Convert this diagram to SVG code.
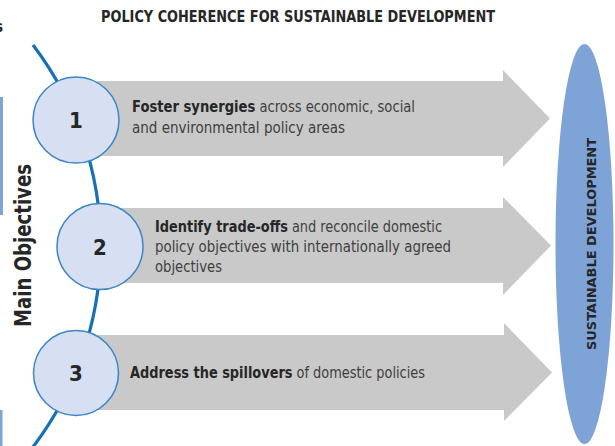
<svg xmlns="http://www.w3.org/2000/svg" width="615" height="446" viewBox="0 0 615 446">
  <style>
    .cond { font-family: "Liberation Sans Narrow", "DejaVu Sans Condensed", "Liberation Sans", sans-serif; font-stretch: condensed; }
    .title { font-size: 15px; font-weight: bold; fill: #262626; }
    .side { font-size: 23px; font-weight: bold; fill: #262626; }
    .num { font-size: 22px; font-weight: bold; fill: #262626; text-anchor: middle; }
    .body { font-size: 15.5px; fill: #404040; }
    .b { font-weight: bold; fill: #262626; }
    .arrow { fill: #c9c9c9; }
    .circ { fill: #d7e0f3; stroke: #3a86c6; stroke-width: 1.5; }
    .spine { fill: none; stroke: #1570b8; stroke-width: 3.2; }
    .goal { fill: #7ea3d7; }
    .goaltext { font-size: 13px; font-weight: bold; fill: #262626; text-anchor: middle; }
  </style>

  <rect width="615" height="446" fill="#ffffff"/>

  <!-- page edge fragments -->
  <text class="cond title" x="-5" y="32">s</text>
  <rect x="0" y="97" width="3" height="118" fill="#7ea3d7"/>
  <rect x="0" y="410" width="2.5" height="36" fill="#7ea3d7"/>

  <!-- heading -->
  <text id="title" class="cond title" x="101" y="21.5" textLength="394" lengthAdjust="spacingAndGlyphs">POLICY COHERENCE FOR SUSTAINABLE DEVELOPMENT</text>

  <!-- vertical axis label -->
  <text id="axis-label" class="cond side" transform="translate(31,327) rotate(-90)" textLength="163" lengthAdjust="spacingAndGlyphs">Main Objectives</text>

  <!-- goal ellipse -->
  <g id="goal">
    <ellipse class="goal" cx="584.5" cy="244" rx="29" ry="200"/>
    <text class="cond goaltext" transform="translate(596,244) rotate(-90)" textLength="212" lengthAdjust="spacingAndGlyphs">SUSTAINABLE DEVELOPMENT</text>
  </g>

  <!-- objective arrows -->
  <g id="arrow-1">
    <polygon class="arrow" points="97,81 503,81 503,70 550,118.5 503,167 503,156 97,156"/>
    <text class="cond body" x="132" y="112" textLength="283" lengthAdjust="spacingAndGlyphs"><tspan class="b">Foster synergies</tspan> across economic, social</text>
    <text class="cond body" x="132" y="133" textLength="213" lengthAdjust="spacingAndGlyphs">and environmental policy areas</text>
  </g>
  <g id="arrow-2">
    <polygon class="arrow" points="120,208 503,208 503,197 551,245.5 503,295 503,283 120,283"/>
    <text class="cond body" x="155" y="232" textLength="287" lengthAdjust="spacingAndGlyphs"><tspan class="b">Identify trade-offs</tspan> and reconcile domestic</text>
    <text class="cond body" x="155" y="252" textLength="296" lengthAdjust="spacingAndGlyphs">policy objectives with internationally agreed</text>
    <text class="cond body" x="155" y="271.5" textLength="67" lengthAdjust="spacingAndGlyphs">objectives</text>
  </g>
  <g id="arrow-3">
    <polygon class="arrow" points="97,335 504,335 504,323 552,372.5 504,421 504,410 97,410"/>
    <text class="cond body" x="130" y="378" textLength="295" lengthAdjust="spacingAndGlyphs"><tspan class="b">Address the spillovers</tspan> of domestic policies</text>
  </g>

  <!-- spine linking the objectives -->
  <g id="connectors">
    <path class="spine" d="M33,45 A332,332 0 0 1 33,447"/>
  </g>

  <!-- numbered objectives -->
  <g id="node-1">
    <circle class="circ" cx="76" cy="120" r="43"/>
    <text class="cond num" x="76" y="128">1</text>
  </g>
  <g id="node-2">
    <circle class="circ" cx="100" cy="246.5" r="43"/>
    <text class="cond num" x="100" y="254.5">2</text>
  </g>
  <g id="node-3">
    <circle class="circ" cx="76" cy="373" r="42.5"/>
    <text class="cond num" x="76" y="381">3</text>
  </g>
</svg>
